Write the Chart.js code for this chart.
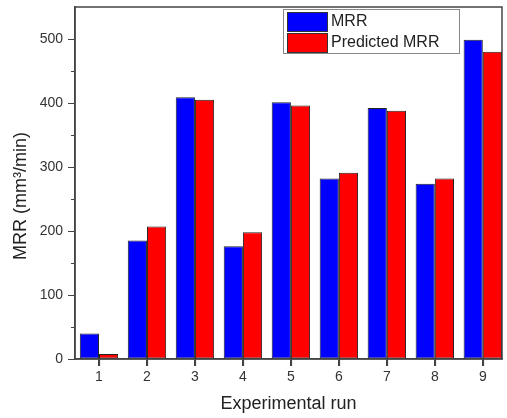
<!DOCTYPE html>
<html>
<head>
<meta charset="utf-8">
<script src="https://cdn.jsdelivr.net/npm/chart.js@4/dist/chart.umd.min.js"></script>
<style>
html,body{margin:0;padding:0;background:#fff;}
#wrap{width:507px;height:418px;position:relative;}
</style>
</head>
<body>
<div id="wrap"><canvas id="c" width="507" height="418"></canvas></div>
<script>
const categories = [1, 2, 3, 4, 5, 6, 7, 8, 9];
const mrr = [40, 185, 409, 176, 401, 282, 392, 274, 499];
const predictedMrr = [8, 207, 405, 198, 396, 291, 388, 282, 480];
const yMajorTicks = [0, 100, 200, 300, 400, 500];
const yMinorTicks = [50, 150, 250, 350, 450];
const seriesNames = ['MRR', 'Predicted MRR'];
const xTitle = 'Experimental run';
const yTitle = 'MRR (mm\u00B3/min)';

const FONT = 'Arial, "Liberation Sans", sans-serif';
const AXIS = '#444';

const extras = {
  id: 'extras',
  afterDraw(chart) {
    const ctx = chart.ctx;
    const a = chart.chartArea;
    const ys = chart.scales.y;
    const xs = chart.scales.x;
    ctx.save();
    ctx.strokeStyle = AXIS;
    ctx.lineWidth = 1.5;
    ctx.strokeRect(a.left, a.top, a.right - a.left, a.bottom - a.top);
    ctx.lineWidth = 1;
    yMinorTicks.forEach(v => {
      const p = Math.round(ys.getPixelForValue(v)) + 0.5;
      ctx.beginPath();
      ctx.moveTo(a.left - 4, p);
      ctx.lineTo(a.left, p);
      ctx.stroke();
    });
    ctx.lineWidth = 1.2;
    categories.forEach(v => {
      const p = Math.round(xs.getPixelForValue(v)) + 0.5;
      ctx.beginPath();
      ctx.moveTo(p, a.bottom);
      ctx.lineTo(p, a.bottom + 7);
      ctx.stroke();
    });
    ctx.fillStyle = '#222';
    ctx.font = '18px ' + FONT;
    ctx.textAlign = 'center';
    ctx.textBaseline = 'middle';
    ctx.translate(21, 196);
    ctx.rotate(-Math.PI / 2);
    ctx.fillText(yTitle, 0, 0);
    ctx.restore();

    ctx.save();
    ctx.fillStyle = '#fff';
    ctx.fillRect(283, 9, 176, 44);
    ctx.strokeStyle = '#888';
    ctx.lineWidth = 1;
    ctx.strokeRect(283.5, 9.5, 176, 44);
    const cols = ['#0000ff', '#ff0000'];
    const rows = [12, 33];
    seriesNames.forEach((n, i) => {
      ctx.fillStyle = cols[i];
      ctx.fillRect(287, rows[i], 40, 19);
      ctx.strokeStyle = '#333';
      ctx.strokeRect(287.5, rows[i] + 0.5, 40, 19);
      ctx.fillStyle = '#222';
      ctx.font = '16px ' + FONT;
      ctx.textAlign = 'left';
      ctx.textBaseline = 'middle';
      ctx.fillText(n, 331, rows[i] + 10);
    });
    ctx.restore();
  }
};

new Chart(document.getElementById('c'), {
  type: 'bar',
  data: {
    datasets: [
      {
        label: seriesNames[0],
        data: categories.map((c, i) => ({x: c, y: mrr[i]})),
        backgroundColor: '#0000ff',
        borderColor: '#222',
        borderWidth: 1,
        borderSkipped: false,
        categoryPercentage: 0.8,
        barPercentage: 1.0
      },
      {
        label: seriesNames[1],
        data: categories.map((c, i) => ({x: c, y: predictedMrr[i]})),
        backgroundColor: '#ff0000',
        borderColor: '#222',
        borderWidth: 1,
        borderSkipped: false,
        categoryPercentage: 0.8,
        barPercentage: 1.0
      }
    ]
  },
  options: {
    responsive: false,
    animation: false,
    devicePixelRatio: 1,
    layout: {padding: {top: 7, right: 5, left: 0, bottom: 0}},
    plugins: {legend: {display: false}, tooltip: {enabled: false}},
    scales: {
      x: {
        type: 'linear',
        min: 0.5,
        max: 9.4,
        offset: false,
        afterFit(s) { s.height = 59; s.paddingLeft = 0; s.paddingRight = 0; },
        ticks: {
          stepSize: 1,
          includeBounds: false,
          color: '#333',
          font: {family: FONT, size: 14},
          padding: 3,
          maxRotation: 0
        },
        grid: {display: true, offset: false, drawOnChartArea: false, drawTicks: true, tickLength: 7, color: AXIS},
        border: {display: true, color: AXIS, width: 1.5},
        title: {display: true, text: xTitle, color: '#222', font: {family: FONT, size: 18}, padding: {top: 0, bottom: 3}}
      },
      y: {
        min: 0,
        max: 550,
        afterFit(s) { s.width = 75; s.paddingTop = 0; s.paddingBottom = 0; },
        afterBuildTicks(s) { s.ticks = yMajorTicks.map(v => ({value: v})); },
        ticks: {
          color: '#333',
          font: {family: FONT, size: 14},
          padding: 5
        },
        grid: {display: true, drawOnChartArea: false, drawTicks: true, tickLength: 7, color: AXIS},
        border: {display: true, color: AXIS, width: 1.5}
      }
    }
  },
  plugins: [extras]
});
</script>
</body>
</html>
